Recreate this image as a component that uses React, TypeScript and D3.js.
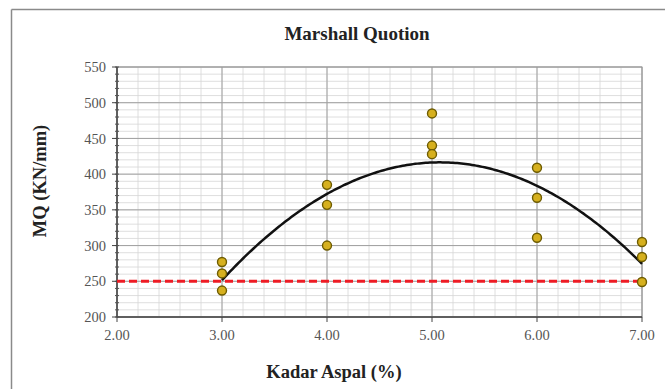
import React from "react";
import * as d3 from "d3";

// Asphalt content (%) for each specimen group
const kadarAspal = [3, 4, 5, 6, 7];
// Marshall Quotient (KN/mm), three specimens per asphalt content
const mqSpecimen1 = [277, 385, 485, 409, 305];
const mqSpecimen2 = [261, 357, 440, 367, 284];
const mqSpecimen3 = [237, 300, 428, 311, 249];
// Minimum specification limit
const mqMinimum = 250;

const xTicks = [2, 3, 4, 5, 6, 7];
const yTicks = [200, 250, 300, 350, 400, 450, 500, 550];

const W = 665;
const H = 389;
const plot = { left: 117, right: 642, top: 67, bottom: 317 };

// Least-squares quadratic fit y = a + b x + c x^2
function quadFit(xs: number[], ys: number[]) {
  const n = xs.length;
  let s1 = 0, s2 = 0, s3 = 0, s4 = 0, sy = 0, sxy = 0, sx2y = 0;
  for (let i = 0; i < n; i++) {
    const x = xs[i], y = ys[i];
    s1 += x; s2 += x * x; s3 += x * x * x; s4 += x * x * x * x;
    sy += y; sxy += x * y; sx2y += x * x * y;
  }
  const M = [
    [n, s1, s2, sy],
    [s1, s2, s3, sxy],
    [s2, s3, s4, sx2y],
  ];
  for (let i = 0; i < 3; i++) {
    for (let k = i + 1; k < 3; k++) {
      const f = M[k][i] / M[i][i];
      for (let j = i; j < 4; j++) M[k][j] -= f * M[i][j];
    }
  }
  const c = M[2][3] / M[2][2];
  const b = (M[1][3] - M[1][2] * c) / M[1][1];
  const a = (M[0][3] - M[0][1] * b - M[0][2] * c) / M[0][0];
  return (x: number) => a + b * x + c * x * x;
}

export default function App() {
  const x = d3.scaleLinear().domain([2, 7]).range([plot.left, plot.right]);
  const y = d3.scaleLinear().domain([200, 550]).range([plot.bottom, plot.top]);

  const points: { k: number; v: number }[] = [];
  [mqSpecimen1, mqSpecimen2, mqSpecimen3].forEach((s) =>
    s.forEach((v, i) => points.push({ k: kadarAspal[i], v }))
  );

  const fit = quadFit(points.map((p) => p.k), points.map((p) => p.v));
  const curveX = d3.range(3, 7.0001, 0.02);
  const line = d3
    .line<number>()
    .x((d) => x(d))
    .y((d) => y(fit(d)))
    .curve(d3.curveLinear);

  const minorX = d3.range(2, 7.0001, 0.2);
  const minorY = d3.range(200, 550.001, 10);

  const serif = "'Liberation Serif', 'Times New Roman', serif";

  return (
    <svg
      width={W}
      height={H}
      style={{ position: "absolute", left: 0, top: 0, background: "#fff" }}
    >
      <rect x={0} y={0} width={W} height={H} fill="#fff" />
      {/* chart frame */}
      <line x1={11.5} y1={9.5} x2={W} y2={9.5} stroke="#8a8a8a" strokeWidth={1.5} />
      <line x1={11.5} y1={9.5} x2={11.5} y2={H} stroke="#8a8a8a" strokeWidth={1.5} />

      <text
        x={357}
        y={40}
        textAnchor="middle"
        fontFamily={serif}
        fontWeight="bold"
        fontSize={19}
        fill="#222"
      >
        Marshall Quotion
      </text>

      {/* minor grid */}
      {minorX.map((v, i) => (
        <line
          key={"mx" + i}
          x1={x(v)}
          x2={x(v)}
          y1={plot.top}
          y2={plot.bottom}
          stroke="#d6d6d6"
          strokeWidth={0.8}
        />
      ))}
      {minorY.map((v, i) => (
        <line
          key={"my" + i}
          x1={plot.left}
          x2={plot.right}
          y1={y(v)}
          y2={y(v)}
          stroke="#d6d6d6"
          strokeWidth={0.8}
        />
      ))}
      {/* major grid */}
      {xTicks.map((v) => (
        <line
          key={"gx" + v}
          x1={x(v)}
          x2={x(v)}
          y1={plot.top}
          y2={plot.bottom}
          stroke="#a0a0a0"
          strokeWidth={1}
        />
      ))}
      {yTicks.map((v) => (
        <line
          key={"gy" + v}
          x1={plot.left}
          x2={plot.right}
          y1={y(v)}
          y2={y(v)}
          stroke="#a0a0a0"
          strokeWidth={1}
        />
      ))}
      <rect
        x={plot.left}
        y={plot.top}
        width={plot.right - plot.left}
        height={plot.bottom - plot.top}
        fill="none"
        stroke="#9a9a9a"
        strokeWidth={1}
      />

      {/* axes */}
      <line x1={plot.left} x2={plot.left} y1={plot.top} y2={plot.bottom} stroke="#444" strokeWidth={1.5} />
      <line x1={plot.left} x2={plot.right} y1={plot.bottom} y2={plot.bottom} stroke="#444" strokeWidth={1.5} />
      {minorY.map((v, i) => (
        <line key={"ty" + i} x1={plot.left - 2} x2={plot.left + 2} y1={y(v)} y2={y(v)} stroke="#555" strokeWidth={1} />
      ))}
      {yTicks.map((v) => (
        <line key={"tY" + v} x1={plot.left - 5} x2={plot.left} y1={y(v)} y2={y(v)} stroke="#444" strokeWidth={1} />
      ))}
      {xTicks.map((v) => (
        <line key={"tX" + v} x1={x(v)} x2={x(v)} y1={plot.bottom} y2={plot.bottom + 5} stroke="#444" strokeWidth={1} />
      ))}

      {yTicks.map((v) => (
        <text
          key={"ly" + v}
          x={plot.left - 11}
          y={y(v)}
          dy="0.35em"
          textAnchor="end"
          fontFamily={serif}
          fontSize={14.5}
          fill="#555"
        >
          {v}
        </text>
      ))}
      {xTicks.map((v) => (
        <text
          key={"lx" + v}
          x={x(v)}
          y={plot.bottom + 23}
          textAnchor="middle"
          fontFamily={serif}
          fontSize={14.5}
          fill="#555"
        >
          {d3.format(".2f")(v)}
        </text>
      ))}

      <text
        x={0}
        y={0}
        transform={`translate(46, 181) rotate(-90)`}
        textAnchor="middle"
        fontFamily={serif}
        fontWeight="bold"
        fontSize={18.5}
        fill="#222"
      >
        MQ (KN/mm)
      </text>
      <text
        x={334}
        y={378}
        textAnchor="middle"
        fontFamily={serif}
        fontWeight="bold"
        fontSize={18.5}
        fill="#222"
      >
        Kadar Aspal (%)
      </text>

      {/* specification limit */}
      <line
        x1={x(2)}
        x2={x(7)}
        y1={y(mqMinimum)}
        y2={y(mqMinimum)}
        stroke="#ee1c25"
        strokeWidth={3}
        strokeDasharray="8,4"
      />

      {/* polynomial trend */}
      <path d={line(curveX) || ""} fill="none" stroke="#111" strokeWidth={2.5} />

      {points.map((p, i) => (
        <circle
          key={"p" + i}
          cx={x(p.k)}
          cy={y(p.v)}
          r={4.5}
          fill="#d6b01e"
          stroke="#6e5c00"
          strokeWidth={1.4}
        />
      ))}
    </svg>
  );
}
